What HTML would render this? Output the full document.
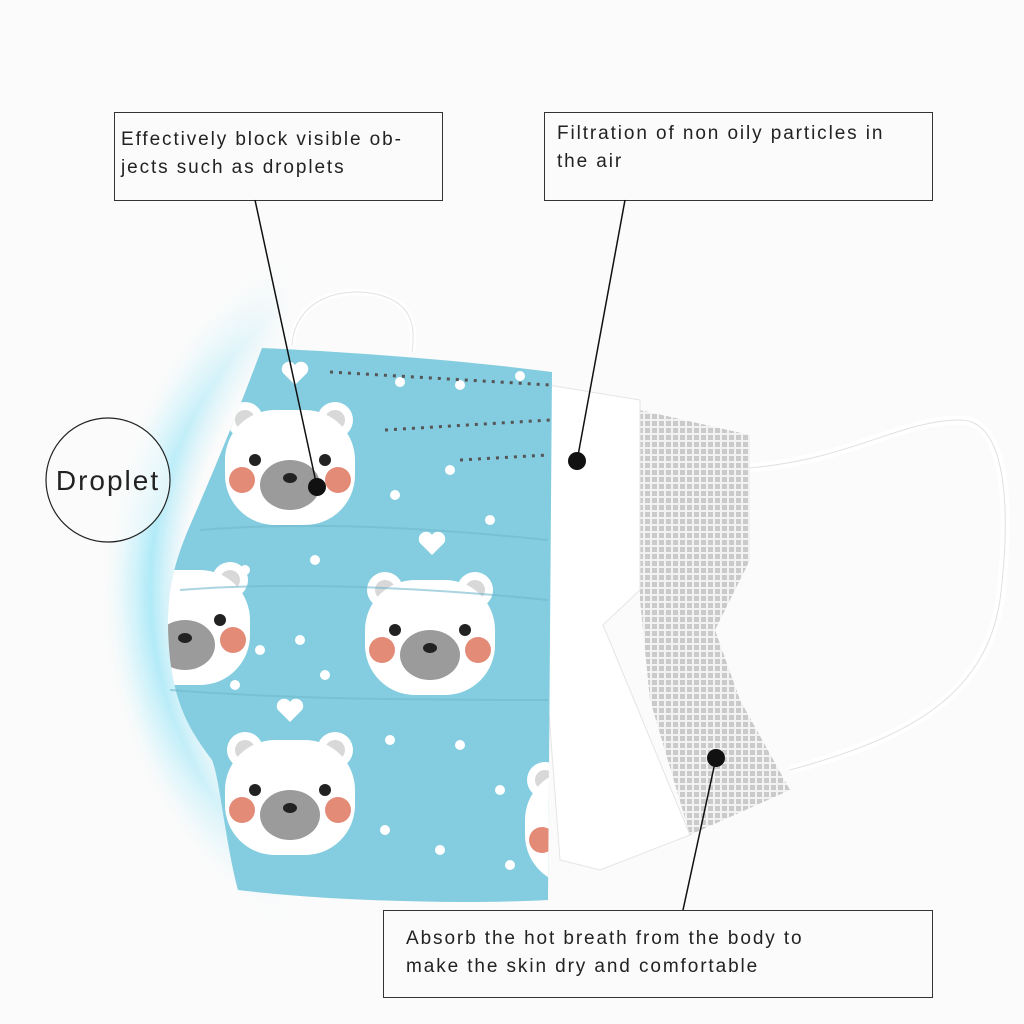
<!DOCTYPE html>
<html><head><meta charset="utf-8"><style>
html,body{margin:0;padding:0;background:#fbfbfb;}
svg{display:block}
text{font-family:"Liberation Sans",sans-serif;fill:#222;}
.lb{font-size:19px;letter-spacing:1.9px;}
</style></head><body>
<svg width="1024" height="1024" viewBox="0 0 1024 1024" xmlns="http://www.w3.org/2000/svg">
<defs>
<radialGradient id="glow" cx="520" cy="590" r="420" gradientUnits="userSpaceOnUse">
<stop offset="0.80" stop-color="#9fe6f7" stop-opacity="0"/>
<stop offset="0.88" stop-color="#9fe6f7" stop-opacity="0.85"/>
<stop offset="0.94" stop-color="#c9f2fb" stop-opacity="0.5"/>
<stop offset="1" stop-color="#fbfbfb" stop-opacity="0"/>
</radialGradient>
<linearGradient id="fade" x1="0" y1="0" x2="1" y2="0">
<stop offset="0" stop-color="#fff"/><stop offset="0.5" stop-color="#fff"/><stop offset="1" stop-color="#000"/>
</linearGradient>
<mask id="gm" maskUnits="userSpaceOnUse" x="0" y="0" width="300" height="1024"><rect x="0" y="0" width="290" height="1024" fill="url(#fade)"/></mask>
<pattern id="mesh" width="7" height="7" patternUnits="userSpaceOnUse">
<rect width="7" height="7" fill="#f2f2f2"/><rect x="1" y="1" width="5" height="5" fill="#9a9a9a" opacity="0.45"/>
</pattern>
<g id="bear">
<circle cx="-45" cy="-50" r="18" fill="#fff"/><circle cx="-45" cy="-50" r="10" fill="#d8d8d8"/>
<circle cx="45" cy="-50" r="18" fill="#fff"/><circle cx="45" cy="-50" r="10" fill="#d8d8d8"/>
<rect x="-65" y="-60" width="130" height="115" rx="50" fill="#fff"/>
<ellipse cx="0" cy="15" rx="30" ry="25" fill="#9b9b9b"/>
<circle cx="-35" cy="-10" r="6" fill="#222"/><circle cx="35" cy="-10" r="6" fill="#222"/>
<circle cx="-48" cy="10" r="13" fill="#e48b78"/><circle cx="48" cy="10" r="13" fill="#e48b78"/>
<ellipse cx="0" cy="8" rx="7" ry="5" fill="#222"/>
</g>
</defs>
<rect x="0" y="0" width="290" height="1024" fill="url(#glow)" mask="url(#gm)"/>
<path d="M292 345 C295 300 340 285 380 295 C415 305 415 330 412 352" fill="none" stroke="#fff" stroke-width="6"/>
<path d="M292 345 C295 300 340 285 380 295 C415 305 415 330 412 352" fill="none" stroke="#e2e2e2" stroke-width="1"/>
<path d="M748 468 C850 460 900 420 960 420 C1010 420 1010 520 1000 600 C985 700 900 740 790 770" fill="none" stroke="#fff" stroke-width="9"/>
<path d="M748 468 C850 460 900 420 960 420 C1010 420 1010 520 1000 600 C985 700 900 740 790 770" fill="none" stroke="#e0e0e0" stroke-width="1"/>
<path d="M640 410 L750 435 L750 560 L715 630 L740 700 L790 790 L690 835 L650 700 L640 600 Z" fill="url(#mesh)"/>
<path d="M548 385 L640 400 L640 590 L603 625 L690 835 L600 870 L560 860 L548 700 Z" fill="#fff" stroke="#e5e5e5"/>
<path d="M262 348 C350 352 460 360 552 372 L548 900 C450 905 320 900 238 890 C225 840 220 780 212 760 C190 730 168 700 168 620 C168 580 180 550 188 530 C210 480 235 420 262 348 Z" fill="#84cde0"/>
<clipPath id="bl"><path d="M262 348 C350 352 460 360 552 372 L548 900 C450 905 320 900 238 890 C225 840 220 780 212 760 C190 730 168 700 168 620 C168 580 180 550 188 530 C210 480 235 420 262 348 Z"/></clipPath>
<g clip-path="url(#bl)">
<use href="#bear" x="290" y="470"/>
<use href="#bear" x="430" y="640"/>
<use href="#bear" x="290" y="800"/>
<use href="#bear" x="185" y="630"/>
<use href="#bear" x="590" y="830"/>
<g fill="#fff">
<circle cx="400" cy="382" r="5"/><circle cx="460" cy="385" r="5"/><circle cx="520" cy="376" r="5"/>
<circle cx="395" cy="495" r="5"/><circle cx="450" cy="470" r="5"/><circle cx="490" cy="520" r="5"/>
<circle cx="245" cy="570" r="5"/><circle cx="315" cy="560" r="5"/><circle cx="235" cy="610" r="5"/>
<circle cx="300" cy="640" r="5"/><circle cx="260" cy="650" r="5"/><circle cx="325" cy="675" r="5"/>
<circle cx="235" cy="685" r="5"/><circle cx="390" cy="740" r="5"/><circle cx="460" cy="745" r="5"/>
<circle cx="500" cy="790" r="5"/><circle cx="385" cy="830" r="5"/><circle cx="440" cy="850" r="5"/>
<circle cx="510" cy="865" r="5"/>
<path d="M432 555 l-12 -12 a7 7 0 0 1 12 -8 a7 7 0 0 1 12 8 Z"/>
<path d="M290 722 l-12 -12 a7 7 0 0 1 12 -8 a7 7 0 0 1 12 8 Z"/>
<path d="M295 385 l-12 -12 a7 7 0 0 1 12 -8 a7 7 0 0 1 12 8 Z"/>
</g>
<path d="M330 372 L550 385 M385 430 L550 420 M460 460 L548 455" stroke="#555" stroke-width="3" stroke-dasharray="3 6" fill="none"/>
</g>
<path d="M180 590 C300 580 450 590 548 600 M170 690 C300 700 450 700 548 700 M200 530 C320 520 450 530 548 540" stroke="#6fb8cc" stroke-width="2" fill="none" opacity="0.6"/>
<circle cx="108" cy="480" r="62" fill="#fbfbfb" fill-opacity="0.6" stroke="#222" stroke-width="1.2"/>
<text x="108" y="490" font-size="28" letter-spacing="2" text-anchor="middle">Droplet</text>
<rect x="114.5" y="112.5" width="328" height="88" fill="#fbfbfb" stroke="#333"/>
<text class="lb" x="121" y="145">Effectively block visible ob-</text>
<text class="lb" x="121" y="173">jects such as droplets</text>
<rect x="544.5" y="112.5" width="388" height="88" fill="#fbfbfb" stroke="#333"/>
<text class="lb" x="557" y="139">Filtration of non oily particles in</text>
<text class="lb" x="557" y="167">the air</text>
<rect x="383.5" y="910.5" width="549" height="87" fill="#fbfbfb" stroke="#333"/>
<text class="lb" x="406" y="944">Absorb the hot breath from the body to</text>
<text class="lb" x="406" y="972">make the skin dry and comfortable</text>
<line x1="255" y1="200" x2="317" y2="487" stroke="#111" stroke-width="1.5"/>
<circle cx="317" cy="487" r="9" fill="#111"/>
<line x1="625" y1="200" x2="577" y2="461" stroke="#111" stroke-width="1.5"/>
<circle cx="577" cy="461" r="9" fill="#111"/>
<line x1="683" y1="910" x2="716" y2="758" stroke="#111" stroke-width="1.5"/>
<circle cx="716" cy="758" r="9" fill="#111"/>
</svg>
</body></html>
